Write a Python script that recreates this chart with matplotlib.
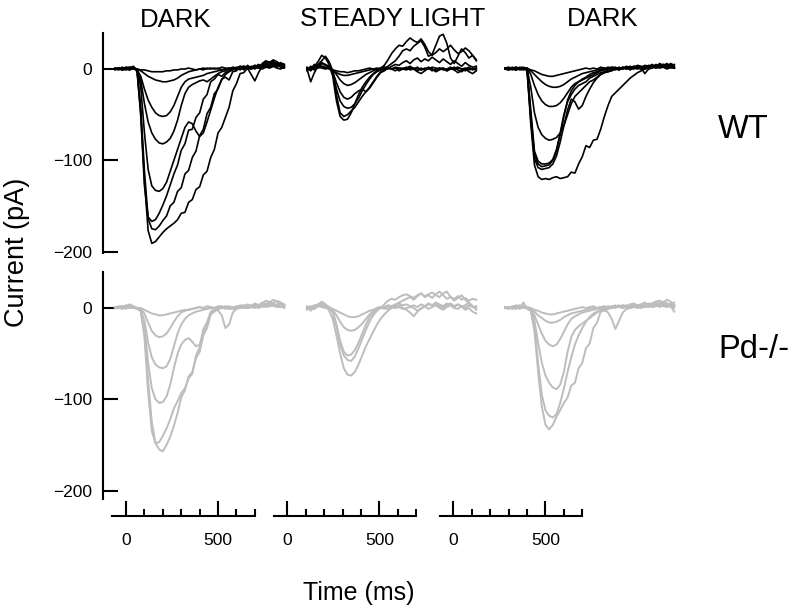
import matplotlib
matplotlib.use("Agg")
import matplotlib.pyplot as plt
from matplotlib.ticker import FixedLocator, FixedFormatter

plt.rcParams['font.family'] = ['Liberation Sans', 'DejaVu Sans']

# ---------------- data ----------------
TIME_MS = list(range(-100, 821, 20))  # sample times of every trace (47 samples)

COLUMN_TITLES = ["DARK", "STEADY LIGHT", "DARK"]
ROW_LABELS = ["WT", "Pd-/-"]
Y_TICKS = [0, -100, -200]
Y_TICK_LABELS = ["0", "\u2212100", "\u2212200"]
X_MAJOR = [0, 500]
X_MAJOR_LABELS = ["0", "500"]
X_MINOR = [100, 200, 300, 400, 600, 700]

WT_DARK_1 = [
    [0, 1, -1, 2, 1, 3, -3,
     -48, -122, -177, -191, -189, -184, -179, -175, -172, -169,
     -165, -158, -157, -146, -143, -132, -129, -116, -112, -97,
     -88, -70, -64, -53, -42, -24, -16, -5, -4, 1,
     2, 4, 1, 6, 9, 7, 10, 8, 5, 3],
    [1, 0, 2, 0, -1, 2, -2,
     -42, -112, -164, -175, -176, -172, -166, -161, -150, -146,
     -134, -130, -115, -111, -97, -90, -73, -66, -49, -42,
     -27, -22, -11, -9, -12, -3, -2, 3, -1, 4,
     1, 4, 2, 5, 8, 6, 9, 4, 6, 2],
    [-1, 1, 0, 1, 2, 0, -1,
     -52, -128, -162, -167, -165, -158, -149, -139, -127, -115,
     -105, -89, -82, -67, -66, -53, -48, -33, -28, -14,
     -11, -6, -8, -4, -2, 0, 1, -1, 2, 0,
     3, 1, 4, 2, 5, 3, 6, 4, 7, 5],
    [0, -1, 1, 0, 2, 1, 0,
     -20, -70, -110, -128, -133, -134, -131, -124, -112, -100,
     -88, -76, -64, -58, -60, -68, -74, -70, -58, -45,
     -32, -20, -12, -6, -3, -1, 0, 2, 1, 3,
     0, 2, 5, 3, 6, 4, 7, 5, 3, 4],
    [1, 0, -1, 2, 0, 1, -1,
     -12, -38, -58, -70, -77, -81, -82, -80, -76, -68,
     -56, -40, -27, -20, -17, -15, -13, -12, -14, -11,
     -8, -5, -3, -2, 0, 1, -1, 2, 3, 1,
     -6, -13, -4, 3, 6, 8, 5, 7, 4, 5],
    [0, 1, 0, -1, 1, 2, -1,
     -8, -22, -34, -42, -48, -51, -52, -51, -47, -40,
     -30, -20, -14, -11, -10, -9, -8, -7, -5, -4,
     -3, -2, -1, 0, 1, 0, 2, 1, 3, 2,
     1, 3, 2, 4, 3, 6, 4, 2, 5, 3],
    [0, 1, -1, 0, 1, 0, 0,
     -2, -5, -8, -10, -12, -13, -14, -14, -13, -12,
     -10, -7, -5, -3, -2, -1, 0, -1, 1, 0,
     1, 0, 2, 1, 0, 2, 1, 3, 2, 1,
     2, 0, 3, 1, 4, 2, 3, 5, 2, 1],
    [0, 0, 1, 0, -1, 1, 0,
     -1, -1, -2, -3, -3, -3, -3, -2, -2, -1,
     -1, 0, 0, 1, 0, -1, 0, 1, 0, 1,
     0, 1, -1, 0, 1, 0, 1, 2, 0, 1,
     0, 2, 1, 0, 2, 1, 3, 1, 0, 2],
]

WT_LIGHT = [
    [1, -2, 3, 8, 15, 12, 5,
     -8, -35, -52, -56, -55, -48, -38, -28, -20, -14,
     -9, -5, -2, 1, 4, 10, 17, 22, 26, 25,
     30, 34, 31, 29, 33, 27, 19, 15, 18, 22,
     19, 22, 26, 21, 17, 19, 23, 20, 15, 9],
    [-2, 3, 1, 5, 9, 14, 8,
     -2, -28, -48, -52, -50, -46, -42, -36, -30, -25,
     -20, -14, -8, -3, 0, 3, 6, 9, 14, 20,
     22, 20, 25, 28, 31, 24, 14, 16, 26, 36,
     38, 28, 12, 6, 14, 22, 18, 12, 15, 10],
    [0, -14, -4, 3, 7, 5, 3,
     -5, -22, -35, -41, -43, -42, -38, -32, -24, -17,
     -11, -6, -3, -1, 2, 0, 3, 5, 4, 7,
     9, 6, 10, 12, 8, 11, 9, 13, 10, 7,
     11, 8, 5, 9, 6, 3, 7, 4, 2, 3],
    [2, 0, 5, 2, 6, 4, 2,
     -3, -15, -25, -31, -33, -31, -27, -24, -22, -25,
     -21, -15, -9, -4, -2, 1, 0, -2, 1, 0,
     2, -1, 0, -3, -5, -2, 1, 0, -2, 1,
     0, -2, 1, -1, -4, -2, 0, -3, -5, -2],
    [-1, 2, 0, 4, 3, 1, 2,
     -1, -6, -12, -16, -18, -17, -15, -12, -9, -6,
     -4, -2, 0, 1, -1, 2, 0, 1, -2, 0,
     1, 3, 0, -2, 1, -1, 2, 0, -3, -1,
     1, -2, 0, 2, -1, -3, 0, 2, -1, 1],
    [1, 0, 2, 1, 3, 2, 0,
     -2, -4, -6, -7, -7, -6, -5, -4, -3, -2,
     -1, 0, 1, 0, 2, 1, 0, 2, 1, 0,
     -1, 1, 0, 2, -1, 0, 1, -2, 0, 1,
     -1, 0, 2, -1, 1, 0, -2, 1, 0, -1],
    [0, 1, -1, 2, 1, 0, 1,
     -1, -2, -3, -3, -4, -3, -2, -2, -1, 0,
     1, 0, -1, 0, 1, 2, 0, 1, 0, 1,
     0, 2, 1, 0, -1, 1, 0, 2, 1, 0,
     1, -1, 0, 1, 2, 0, 1, -1, 0, 1],
]

WT_DARK_2 = [
    [0, 1, -1, 2, 0, 1, -2,
     -60, -105, -118, -121, -120, -121, -119, -118, -120, -119,
     -118, -113, -114, -104, -96, -84, -86, -78, -77, -66,
     -52, -40, -30, -26, -22, -18, -14, -10, -7, -4,
     -2, 0, 1, 3, 2, 4, 5, 3, 6, 4],
    [1, 0, 2, -1, 1, 0, -1,
     -55, -98, -108, -110, -109, -108, -104, -95, -80, -62,
     -45, -33, -36, -44, -40, -30, -22, -15, -10, -6,
     -4, -3, -2, 0, -1, 1, 2, 0, 3, 1,
     2, 4, 3, 5, 2, 6, 4, 3, 5, 2],
    [0, -1, 1, 0, 2, 1, 0,
     -50, -94, -104, -107, -106, -105, -100, -90, -72, -52,
     -34, -24, -18, -14, -11, -9, -6, -4, -3, -1,
     0, 2, 1, -1, 2, 0, 3, 1, 2, 4,
     3, 1, 4, 2, 5, 3, 4, 6, 3, 5],
    [1, 2, 0, 1, -1, 0, 1,
     -45, -90, -101, -104, -104, -103, -99, -88, -70, -50,
     -36, -28, -22, -18, -16, -14, -10, -8, -6, -4,
     -3, -1, 0, 1, -1, 2, 0, 1, 3, 2,
     0, 3, 1, 4, 2, 5, 3, 2, 4, 1],
    [0, 1, 0, -1, 1, 2, 0,
     -20, -48, -64, -72, -76, -78, -77, -75, -70, -62,
     -50, -38, -30, -26, -22, -18, -14, -12, -9, -6,
     -4, -3, -1, 0, 1, 0, 2, -1, 1, 3,
     2, 0, 3, 1, 4, 2, 5, 3, 1, 2],
    [1, 0, 1, 2, 0, -1, 1,
     -6, -18, -28, -35, -39, -41, -41, -40, -37, -32,
     -26, -20, -16, -14, -12, -10, -8, -6, -4, -2,
     -1, 0, 2, 1, 0, 2, 1, 3, 0, 2,
     1, -5, 0, 3, 1, 4, 2, 5, 3, 1],
    [0, -1, 0, 1, 0, 1, 0,
     -2, -6, -10, -14, -17, -19, -20, -20, -19, -17,
     -14, -11, -9, -7, -5, -4, -3, -2, -1, 0,
     1, 0, 2, 1, 0, 1, 2, 0, 1, 2,
     0, 1, 2, 3, 1, 2, 4, 2, 3, 1],
    [1, 0, 0, -1, 1, 0, 1,
     -1, -2, -4, -6, -7, -8, -8, -7, -6, -5,
     -4, -3, -2, -1, 0, 1, 0, 1, 0, 2,
     1, 0, 1, 2, 0, 1, 0, 2, 1, 0,
     1, 2, 0, 1, 3, 1, 2, 0, 2, 1],
]

PD_DARK_1 = [
    [0, 1, 2, 0, 3, 1, 0,
     -3, -25, -80, -125, -148, -155, -157, -150, -141, -129,
     -115, -98, -90, -75, -70, -55, -48, -30, -22, -7,
     -4, -1, 0, 2, 1, -1, 0, 2, 3, 1,
     3, 4, 2, 5, 8, 6, 9, 7, 5, 4],
    [1, 0, -1, 2, 4, 2, 0,
     -4, -32, -92, -135, -148, -147, -140, -132, -122, -110,
     -102, -93, -88, -77, -72, -52, -43, -23, -16, -4,
     -2, 0, 1, -1, 2, 0, 1, 3, 2, 4,
     2, 5, 3, 6, 4, 7, 5, 8, 6, 3],
    [0, 2, 1, 3, 1, 0, -1,
     -3, -20, -60, -88, -100, -104, -103, -97, -84, -66,
     -50, -40, -35, -33, -37, -42, -40, -28, -16, -7,
     -3, -1, 0, 1, -1, 0, 2, 1, 0, 2,
     1, 3, 2, 4, 3, 5, 2, 4, 6, 3],
    [1, 0, 1, -1, 2, 1, 0,
     -2, -14, -38, -54, -62, -65, -66, -64, -56, -42,
     -28, -18, -12, -8, -6, -4, -3, -2, -1, 0,
     -1, -3, -8, -22, -18, -5, -1, 0, 1, 0,
     2, 1, 3, 2, 4, 3, 5, 2, 4, 3],
    [0, 1, 0, 2, 0, 1, 0,
     -1, -6, -16, -25, -30, -32, -31, -28, -22, -15,
     -9, -5, -3, -2, -1, 0, 1, 0, 2, 1,
     0, 2, 1, 0, -1, 1, 0, 2, 1, 0,
     1, 0, 2, 1, 3, 2, 4, 2, 1, 2],
    [1, 0, 2, 1, 0, 1, 0,
     0, -2, -4, -6, -7, -8, -8, -7, -6, -5,
     -4, -3, -2, -2, -1, 0, 1, 0, -1, 1,
     0, 1, 2, 0, 1, -1, 0, 1, 2, 0,
     1, 2, 0, 3, 1, 2, 3, 1, 2, 0],
]

PD_LIGHT = [
    [2, -3, 1, 4, 6, 2, -3,
     -12, -30, -50, -66, -73, -74, -70, -62, -52, -42,
     -34, -26, -18, -12, -7, -3, 0, 3, 6, 8,
     10, 12, 9, 13, 16, 12, 14, 11, 15, 18,
     14, 10, 12, 8, 11, 14, 9, 5, 2, -2],
    [0, 2, -1, 3, 7, 4, 1,
     -5, -20, -40, -52, -57, -58, -53, -44, -34, -24,
     -15, -8, -3, 0, 4, 8, 10, 9, 12, 14,
     15, 13, 11, 14, 16, 13, 15, 17, 14, 12,
     16, 18, 12, 10, 13, 9, 11, 8, 10, 9],
    [-2, 1, 3, 2, 5, 3, 0,
     -4, -18, -36, -48, -52, -51, -46, -38, -28, -18,
     -10, -5, -2, 0, 1, 3, 2, 4, 5, 3,
     4, 2, 0, -3, -1, 2, 4, 3, 5, 2,
     0, 3, 5, 2, 4, 1, 3, 6, 2, 0],
    [1, 0, 2, 4, 3, 1, 0,
     -2, -8, -15, -21, -24, -25, -24, -21, -17, -12,
     -7, -3, 0, 1, -1, 2, 0, 1, 3, 0,
     -2, -5, -9, -4, 0, 2, -1, 1, 3, 0,
     -2, 1, 3, 0, -1, 2, -2, 0, -4, -6],
    [0, 1, -1, 2, 1, 0, 1,
     -1, -3, -5, -7, -9, -10, -10, -9, -7, -5,
     -3, -2, 0, 1, 0, -1, 2, 0, 1, -1,
     0, 1, 3, 1, 4, 2, 5, 3, 6, 4,
     2, 5, 3, 1, 4, 2, 0, 3, 1, 2],
]

PD_DARK_2 = [
    [0, -1, 1, 3, 0, 6, -1,
     -3, -25, -70, -108, -128, -133, -128, -119, -112, -104,
     -98, -85, -82, -66, -60, -44, -39, -22, -16, -4,
     -3, -1, 0, 2, 1, 3, 2, 4, 5, 3,
     4, 6, 3, 5, 7, 8, 6, 9, 7, 3],
    [1, 0, 2, 1, -1, 2, 0,
     -3, -20, -60, -95, -112, -118, -120, -116, -104, -88,
     -70, -54, -40, -30, -22, -15, -10, -6, -4, -2,
     -1, 1, 0, 2, 1, 3, 0, 2, 4, 1,
     3, 2, 5, 4, 6, 3, 7, 5, 4, 6],
    [0, 1, -1, 2, 1, 0, 1,
     -2, -14, -38, -60, -74, -82, -87, -89, -84, -70,
     -48, -32, -24, -20, -17, -14, -11, -8, -5, -3,
     -1, 0, 2, 1, 3, 0, 2, 1, 3, 2,
     4, 3, 2, 5, 3, 6, 4, 2, 5, 3],
    [1, 0, 1, 2, 3, 1, 0,
     -1, -8, -18, -28, -36, -40, -42, -40, -34, -26,
     -18, -12, -9, -7, -5, -4, -3, -2, -1, 0,
     -2, -5, -12, -23, -14, -5, -1, 0, 1, 0,
     2, 1, 3, 2, 4, 1, 3, 5, 2, -4],
    [0, 1, 0, -1, 2, 1, 0,
     -1, -4, -8, -11, -14, -16, -16, -15, -13, -10,
     -8, -6, -5, -4, -3, -2, -1, 0, 0, 1,
     0, 2, 1, 0, 2, 1, 3, 0, 2, 1,
     3, 2, 1, 4, 2, 3, 5, 3, 1, 2],
    [1, 0, 1, 0, 2, 0, 1,
     0, -2, -3, -5, -6, -7, -7, -6, -5, -4,
     -3, -2, -1, 0, 1, 0, 1, 2, 0, 1,
     2, 0, 1, 3, 1, 0, 2, 1, 3, 1,
     0, 2, 3, 1, 2, 4, 2, 1, 3, 0],
]

PANELS = [[WT_DARK_1, WT_LIGHT, WT_DARK_2],
          [PD_DARK_1, PD_LIGHT, PD_DARK_2]]
ROW_COLORS = ["#000000", "#bdbdbd"]
ROW_LW = [1.2, 1.4]

# ---------------- layout (pixels) ----------------
W, H = 793, 610
fig = plt.figure(figsize=(W / 100, H / 100), dpi=100)


def add_ax(left, top, width, height):
    return fig.add_axes([left / W, 1 - (top + height) / H, width / W, height / H])


PX_PER_MS = 0.184
PX_PER_PA = 0.913
TRACE_XLIM = (-168, 840)
COL_LEFT = [102.5, 294.5, 492.5]
ROW_ZERO_PX = [69, 308]
ROW_YLIM = [(-201, 39.5), (-209, 39.5)]

for r in range(2):
    ylim = ROW_YLIM[r]
    top = ROW_ZERO_PX[r] - ylim[1] * PX_PER_PA
    height = (ylim[1] - ylim[0]) * PX_PER_PA
    for c in range(3):
        ax = add_ax(COL_LEFT[c], top, (TRACE_XLIM[1] - TRACE_XLIM[0]) * PX_PER_MS, height)
        ax.set_xlim(*TRACE_XLIM)
        ax.set_ylim(*ylim)
        ax.patch.set_visible(False)
        for trace in PANELS[r][c]:
            ax.plot(TIME_MS, trace, color=ROW_COLORS[r], lw=ROW_LW[r],
                    solid_joinstyle='round', clip_on=False)
        for s in ['top', 'right', 'bottom']:
            ax.spines[s].set_visible(False)
        ax.xaxis.set_visible(False)
        if c == 0:
            ax.spines['left'].set_linewidth(1.5)
            ax.yaxis.set_major_locator(FixedLocator(Y_TICKS))
            ax.yaxis.set_major_formatter(FixedFormatter(Y_TICK_LABELS))
            ax.tick_params(axis='y', direction='in', length=10.5, width=1.5,
                           labelsize=12.5, pad=7.5, colors='black')
        else:
            ax.spines['left'].set_visible(False)
            ax.yaxis.set_visible(False)

# time axes at the bottom
X_ZERO_PX = [126, 287.3, 453.3]
X_LIM = (-75, 700)
for c in range(3):
    left = X_ZERO_PX[c] - (0 - X_LIM[0]) * PX_PER_MS
    ax = add_ax(left, 506, (X_LIM[1] - X_LIM[0]) * PX_PER_MS, 10)
    ax.set_xlim(*X_LIM)
    ax.patch.set_visible(False)
    for s in ['top', 'right', 'left']:
        ax.spines[s].set_visible(False)
    ax.spines['bottom'].set_linewidth(1.5)
    ax.yaxis.set_visible(False)
    ax.xaxis.set_major_locator(FixedLocator(X_MAJOR))
    ax.xaxis.set_major_formatter(FixedFormatter(X_MAJOR_LABELS))
    ax.xaxis.set_minor_locator(FixedLocator(X_MINOR))
    ax.tick_params(axis='x', which='major', direction='in', length=10.5, width=1.5,
                   labelsize=12.5, pad=12)
    ax.tick_params(axis='x', which='minor', direction='in', length=5.2, width=1.5)

# text
fig.text(176 / W, 1 - 26.7 / H, COLUMN_TITLES[0], ha='center', va='baseline', fontsize=18.5)
fig.text(393 / W, 1 - 26.2 / H, COLUMN_TITLES[1], ha='center', va='baseline', fontsize=18.5)
fig.text(602.5 / W, 1 - 26.2 / H, COLUMN_TITLES[2], ha='center', va='baseline', fontsize=18.5)
fig.text(718 / W, 1 - 138.3 / H, ROW_LABELS[0], ha='left', va='baseline', fontsize=23.5)
fig.text(718 / W, 1 - 358 / H, ROW_LABELS[1], ha='left', va='baseline', fontsize=23.5)
fig.text(358.5 / W, 1 - 600 / H, "Time (ms)", ha='center', va='baseline', fontsize=18)
fig.text(17 / W, 1 - 252 / H, "Current (pA)", rotation=90, ha='center', va='center', fontsize=19.5)

fig.savefig("out.png", dpi=100)
